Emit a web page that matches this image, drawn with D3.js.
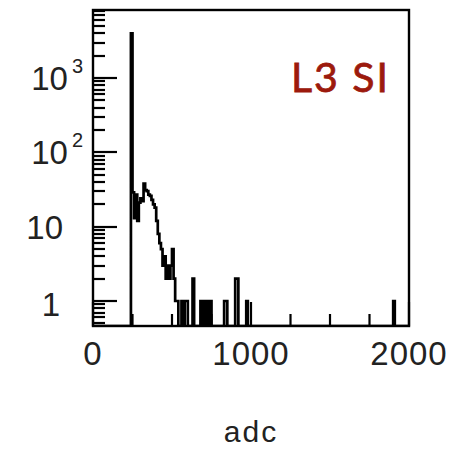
<!DOCTYPE html>
<html><head><meta charset="utf-8">
<script src="https://cdn.jsdelivr.net/npm/d3@7"></script>
<style>body{margin:0;background:#fff}</style>
</head><body><svg id="c" width="457" height="452"></svg>
<script>
// ---- data ----
const binWidth = 10;
const binLow = [240, 250, 260, 270, 280, 290, 300, 310, 320, 330, 340, 350, 360, 370, 380, 390,
  400, 410, 420, 430, 440, 450, 460, 470, 480, 490, 500, 510, 520, 530, 560, 580, 590, 630,
  680, 700, 720, 740, 830, 840, 900, 910, 970, 1900];
const counts = [4000, 29, 13, 27, 12, 21, 24, 22, 38, 31, 30, 27, 26, 23, 20, 18,
  12, 8, 6, 5, 3, 4, 2, 3, 2, 3, 5, 2, 1, 1, 1, 1, 1, 2,
  1, 1, 1, 1, 1, 1, 2, 2, 1, 1];
const xMajorTicks = [0, 1000, 2000];
const xMinorTicks = [250, 500, 750, 1250, 1500, 1750];
const xTickLabels = ["0", "1000", "2000"];
const yTickValues = [1, 10, 100, 1000];
const yLabelBase = ["1", "10", "10", "10"];
const yLabelExp = ["", "", "2", "3"];
const titleText = "L3 SI";
const xTitle = "adc";

// ---- layout ----
const svg = d3.select("#c");
const L = 93, R = 409, T = 10, B = 326;
const x = d3.scaleLinear().domain([0, 2000]).range([L, R]);
const y = d3.scaleLog().domain([0.461, 8220]).range([B, T]);
const font = "'Liberation Sans', Arial, sans-serif";

svg.append("rect").attr("width", 457).attr("height", 452).attr("fill", "#fff");

svg.append("clipPath").attr("id", "clip").append("rect")
  .attr("x", L).attr("y", T).attr("width", R - L).attr("height", B - T);

// histogram step path
const valByBin = new Map(binLow.map((b, i) => [b, counts[i]]));
const nBins = Math.round((x.domain()[1] - x.domain()[0]) / binWidth);
const pts = [[x(0), B]];
for (let i = 0; i < nBins; i++) {
  const lo = x.domain()[0] + i * binWidth;
  const v = valByBin.get(lo) || 0;
  const yy = v > 0 ? y(v) : B;
  pts.push([x(lo), yy], [x(lo + binWidth), yy]);
}
pts.push([x(2000), B]);
svg.append("path").attr("d", d3.line()(pts))
  .attr("fill", "none").attr("stroke", "#000").attr("stroke-width", 2.7)
  .attr("stroke-linejoin", "miter").attr("clip-path", "url(#clip)");

// y ticks
const yTicks = y.ticks().filter(v => v >= y.domain()[0] && v <= y.domain()[1]);
svg.append("g").selectAll("line").data(yTicks).join("line")
  .attr("x1", L).attr("x2", v => L + (Math.abs(Math.log10(v) - Math.round(Math.log10(v))) < 1e-9 ? 24 : 12))
  .attr("y1", v => Math.round(y(v))).attr("y2", v => Math.round(y(v)))
  .attr("stroke", "#000").attr("stroke-width", 2.2);

// x ticks
svg.append("g").selectAll("line").data(xMajorTicks.map(v => [v, 24]).concat(xMinorTicks.map(v => [v, 12]))).join("line")
  .attr("x1", d => x(d[0])).attr("x2", d => x(d[0]))
  .attr("y1", B).attr("y2", d => B - d[1])
  .attr("stroke", "#000").attr("stroke-width", 2.2);

// frame
svg.append("rect").attr("x", L).attr("y", T).attr("width", R - L).attr("height", B - T)
  .attr("fill", "none").attr("stroke", "#000").attr("stroke-width", 2.4);

// x labels
svg.append("g").selectAll("text").data(xMajorTicks).join("text")
  .attr("x", v => x(v)).attr("y", 365).attr("text-anchor", "middle")
  .attr("font-family", font).attr("font-size", 33).attr("letter-spacing", 1)
  .attr("fill", "#222").text((v, i) => xTickLabels[i]);

// y labels
const yl = svg.append("g").selectAll("text").data(yTickValues).join("text")
  .attr("x", (v, i) => yLabelExp[i] !== "" ? 83 : (yLabelBase[i] === "1" ? 60 : 63))
  .attr("y", (v, i) => y(v) + (yLabelBase[i] === "1" ? 15 : 12)).attr("text-anchor", "end")
  .attr("font-family", font).attr("font-size", 33).attr("fill", "#222");
yl.append("tspan").text((v, i) => yLabelBase[i]);
yl.filter((v, i) => yLabelExp[i] !== "").append("tspan")
  .attr("font-size", 20).attr("dx", 4).attr("dy", -17).text((v) => yLabelExp[yTickValues.indexOf(v)]);

// axis title
svg.append("text").attr("x", 251).attr("y", 442).attr("text-anchor", "middle")
  .attr("font-family", font).attr("font-size", 30).attr("letter-spacing", 2)
  .attr("fill", "#222").text(xTitle);

// title
svg.append("text").attr("x", 291).attr("y", 92)
  .attr("font-family", "Lato, 'Open Sans', sans-serif").attr("font-size", 41)
  .attr("fill", "#9c1a0d").attr("stroke", "#9c1a0d").attr("stroke-width", 0.8)
  .attr("letter-spacing", 2).text(titleText);
</script></body></html>
